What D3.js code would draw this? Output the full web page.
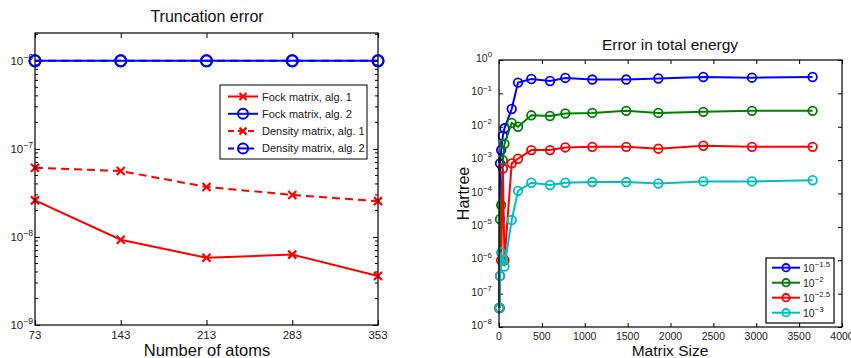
<!DOCTYPE html>
<html>
<head>
<meta charset="utf-8">
<script src="https://cdn.jsdelivr.net/npm/d3@7"></script>
<style>
body { margin: 0; background: #fff; }
svg { font-family: "Liberation Sans", Arial, sans-serif; }
</style>
</head>
<body>
<svg width="851" height="358"></svg>
<script>
// ---- left panel data ----
var atoms = [73, 143, 213, 283, 353];
var fockAlg1 = [2.6e-8, 9.3e-9, 5.8e-9, 6.3e-9, 3.6e-9];
var fockAlg2 = [1e-6, 1e-6, 1e-6, 1e-6, 1e-6];
var densAlg1 = [6.1e-8, 5.6e-8, 3.7e-8, 3.0e-8, 2.55e-8];
var densAlg2 = [1e-6, 1e-6, 1e-6, 1e-6, 1e-6];
var leftLegend = ["Fock matrix, alg. 1", "Fock matrix, alg. 2", "Density matrix, alg. 1", "Density matrix, alg. 2"];
var leftYTicks = [1e-9, 1e-8, 1e-7, 1e-6];
var leftYExp = ["\u22129", "\u22128", "\u22127", "\u22126"];

// ---- right panel data ----
var matrixSize = [5, 12, 25, 45, 64, 148, 222, 377, 595, 773, 1088, 1484, 1858, 2383, 2950, 3657];
var err15 = [3.7e-8, 8e-4, 2e-3, 5.3e-3, 9e-3, 0.034, 0.21, 0.27, 0.235, 0.29, 0.26, 0.26, 0.28, 0.31, 0.295, 0.31];
var err20 = [3.7e-8, 1.7e-5, 4.5e-5, 1e-3, 3.1e-3, 0.013, 0.01, 0.022, 0.021, 0.025, 0.026, 0.03, 0.026, 0.028, 0.03, 0.03];
var err25 = [3.7e-8, 3.4e-7, 1e-6, 5.6e-4, 1e-6, 8e-4, 1.1e-3, 2.0e-3, 2.0e-3, 2.4e-3, 2.5e-3, 2.5e-3, 2.2e-3, 2.7e-3, 2.5e-3, 2.5e-3];
var err30 = [3.7e-8, 3.4e-7, 1.7e-6, 1.0e-6, 6.5e-7, 1.6e-5, 1.2e-4, 2.1e-4, 1.8e-4, 2.1e-4, 2.2e-4, 2.2e-4, 2.0e-4, 2.3e-4, 2.3e-4, 2.5e-4];
var rightLegendExp = ["\u22121.5", "\u22122", "\u22122.5", "\u22123"];
var rightYTicks = [1e-8, 1e-7, 1e-6, 1e-5, 1e-4, 1e-3, 1e-2, 1e-1, 1];
var rightYExp = ["\u22128", "\u22127", "\u22126", "\u22125", "\u22124", "\u22123", "\u22122", "\u22121", "0"];
var rightXTicks = [0, 500, 1000, 1500, 2000, 2500, 3000, 3500, 4000];

var svg = d3.select("svg");
var textCol = "#222";

function frame(g, x0, y0, x1, y1) {
    g.append("rect")
        .attr("x", x0).attr("y", y0)
        .attr("width", x1 - x0).attr("height", y1 - y0)
        .attr("fill", "none").attr("stroke", "#000").attr("stroke-width", 1.2);
}

function tenLabel(g, x, y, exp, anchor, size) {
    var t = g.append("text")
        .attr("x", x).attr("y", y)
        .attr("text-anchor", anchor)
        .attr("font-size", size + "px")
        .attr("fill", textCol);
    t.append("tspan").text("10");
    t.append("tspan").attr("dy", -size * 0.45).attr("font-size", (size * 0.75) + "px").text(exp);
    return t;
}

function xMarker(g, cx, cy, s, color) {
    g.append("path")
        .attr("d", "M" + (cx - s) + "," + (cy - s) + "L" + (cx + s) + "," + (cy + s) +
            "M" + (cx - s) + "," + (cy + s) + "L" + (cx + s) + "," + (cy - s))
        .attr("stroke", color).attr("stroke-width", 2.2).attr("fill", "none");
}

// ================= LEFT PANEL =================
var L = { left: 35, right: 378, top: 33, bottom: 325 };
var xL = d3.scaleLinear().domain([73, 353]).range([L.left, L.right]);
var yL = d3.scaleLog().domain([1e-9, 2.07e-6]).range([L.bottom, L.top]);
var gL = svg.append("g");

// minor log ticks
var minorL = [];
[-9, -8, -7, -6].forEach(function (e) {
    for (var m = 2; m <= 9; m++) {
        var v = m * Math.pow(10, e);
        if (v <= 2.07e-6) minorL.push(v);
    }
});
minorL.forEach(function (v) {
    gL.append("line").attr("x1", L.left).attr("x2", L.left + 3).attr("y1", yL(v)).attr("y2", yL(v)).attr("stroke", "#000");
    gL.append("line").attr("x1", L.right).attr("x2", L.right - 3).attr("y1", yL(v)).attr("y2", yL(v)).attr("stroke", "#000");
});

gL.append("g").attr("transform", "translate(" + L.left + ",0)")
    .call(d3.axisLeft(yL).tickValues(leftYTicks).tickSize(-5).tickFormat(""));
gL.append("g").attr("transform", "translate(" + L.right + ",0)")
    .call(d3.axisRight(yL).tickValues(leftYTicks).tickSize(-5).tickFormat(""));
gL.append("g").attr("transform", "translate(0," + L.bottom + ")")
    .call(d3.axisBottom(xL).tickValues(atoms).tickSize(-5).tickFormat(""));
gL.append("g").attr("transform", "translate(0," + L.top + ")")
    .call(d3.axisTop(xL).tickValues(atoms).tickSize(-5).tickFormat(""));
gL.selectAll(".domain").remove();

leftYTicks.forEach(function (v, i) {
    tenLabel(gL, 33, yL(v) + 4, leftYExp[i], "end", 11.5);
});
atoms.forEach(function (a) {
    gL.append("text").attr("x", xL(a)).attr("y", L.bottom + 14)
        .attr("text-anchor", "middle").attr("font-size", "11.5px").attr("fill", textCol).text(a);
});

var lineL = d3.line()
    .x(function (d) { return xL(d[0]); })
    .y(function (d) { return yL(d[1]); });

var leftSeries = [
    { vals: fockAlg1, color: "#ff0000", dash: null, mark: "x" },
    { vals: fockAlg2, color: "#0000ff", dash: null, mark: "o" },
    { vals: densAlg1, color: "#ff0000", dash: "8,5", mark: "x" },
    { vals: densAlg2, color: "#0000ff", dash: "8,5", mark: "o" }
];

leftSeries.forEach(function (s) {
    var pts = atoms.map(function (a, i) { return [a, s.vals[i]]; });
    gL.append("path").datum(pts)
        .attr("d", lineL)
        .attr("fill", "none").attr("stroke", s.color).attr("stroke-width", 2)
        .attr("stroke-dasharray", s.dash);
    pts.forEach(function (p) {
        if (s.mark === "x") xMarker(gL, xL(p[0]), yL(p[1]), 4, s.color);
        else gL.append("circle").attr("cx", xL(p[0])).attr("cy", yL(p[1])).attr("r", 5.5)
            .attr("fill", "none").attr("stroke", s.color).attr("stroke-width", 2);
    });
});

frame(gL, L.left, L.top, L.right, L.bottom);

// legend
var lgL = gL.append("g");
lgL.append("rect").attr("x", 220).attr("y", 85).attr("width", 147).attr("height", 74)
    .attr("fill", "#fff").attr("stroke", "#000").attr("stroke-width", 1);
leftSeries.forEach(function (s, i) {
    var yy = 96.5 + i * 17.3;
    lgL.append("line").attr("x1", 228).attr("x2", 258).attr("y1", yy).attr("y2", yy)
        .attr("stroke", s.color).attr("stroke-width", 2).attr("stroke-dasharray", s.dash ? "6,4" : null);
    if (s.mark === "x") xMarker(lgL, 243, yy, 3.5, s.color);
    else {
        lgL.append("circle").attr("cx", 243).attr("cy", yy).attr("r", 5)
            .attr("fill", "#fff").attr("stroke", s.color).attr("stroke-width", 2);
        lgL.append("line").attr("x1", 238).attr("x2", 248).attr("y1", yy).attr("y2", yy)
            .attr("stroke", s.color).attr("stroke-width", 2);
    }
    lgL.append("text").attr("x", 262).attr("y", yy + 4).attr("font-size", "11px").attr("fill", textCol).text(leftLegend[i]);
});

gL.append("text").attr("x", 207).attr("y", 22).attr("text-anchor", "middle")
    .attr("font-size", "16px").attr("fill", "#111").text("Truncation error");
gL.append("text").attr("x", 207).attr("y", 356).attr("text-anchor", "middle")
    .attr("font-size", "16.5px").attr("fill", "#111").text("Number of atoms");

// ================= RIGHT PANEL =================
var R = { left: 499, right: 842, top: 60, bottom: 327 };
var xR = d3.scaleLinear().domain([0, 4000]).range([R.left, R.right]);
var yR = d3.scaleLog().domain([1e-8, 1]).range([R.bottom, R.top]);
var gR = svg.append("g");

gR.append("g").attr("transform", "translate(" + R.left + ",0)")
    .call(d3.axisLeft(yR).tickValues(rightYTicks).tickSize(-4).tickFormat(""));
gR.append("g").attr("transform", "translate(" + R.right + ",0)")
    .call(d3.axisRight(yR).tickValues(rightYTicks).tickSize(-4).tickFormat(""));
gR.append("g").attr("transform", "translate(0," + R.bottom + ")")
    .call(d3.axisBottom(xR).tickValues(rightXTicks).tickSize(-4).tickFormat(""));
gR.append("g").attr("transform", "translate(0," + R.top + ")")
    .call(d3.axisTop(xR).tickValues(rightXTicks).tickSize(-4).tickFormat(""));
gR.selectAll(".domain").remove();

rightYTicks.forEach(function (v, i) {
    tenLabel(gR, 492, yR(v) + 2, rightYExp[i], "end", 10.5);
});
rightXTicks.forEach(function (v) {
    gR.append("text").attr("x", xR(v)).attr("y", R.bottom + 13)
        .attr("text-anchor", "middle").attr("font-size", "10.5px").attr("fill", textCol).text(v);
});

var lineR = d3.line()
    .x(function (d) { return xR(d[0]); })
    .y(function (d) { return yR(d[1]); });

var rightSeries = [
    { vals: err15, color: "#0000ff" },
    { vals: err20, color: "#008000" },
    { vals: err25, color: "#ff0000" },
    { vals: err30, color: "#00bfbf" }
];

rightSeries.forEach(function (s) {
    var pts = matrixSize.map(function (m, i) { return [m, s.vals[i]]; });
    gR.append("path").datum(pts)
        .attr("d", lineR)
        .attr("fill", "none").attr("stroke", s.color).attr("stroke-width", 2);
    gR.selectAll(null).data(pts).enter().append("circle")
        .attr("cx", function (d) { return xR(d[0]); })
        .attr("cy", function (d) { return yR(d[1]); })
        .attr("r", 4.3)
        .attr("fill", "none").attr("stroke", s.color).attr("stroke-width", 1.8);
});

frame(gR, R.left, R.top, R.right, R.bottom);

var lgR = gR.append("g");
lgR.append("rect").attr("x", 766).attr("y", 258).attr("width", 68).attr("height", 65)
    .attr("fill", "#fff").attr("stroke", "#000").attr("stroke-width", 1.2);
rightSeries.forEach(function (s, i) {
    var yy = 267.7 + i * 15;
    lgR.append("line").attr("x1", 772).attr("x2", 800).attr("y1", yy).attr("y2", yy)
        .attr("stroke", s.color).attr("stroke-width", 2);
    lgR.append("circle").attr("cx", 786).attr("cy", yy).attr("r", 3.7)
        .attr("fill", "none").attr("stroke", s.color).attr("stroke-width", 1.8);
    tenLabel(lgR, 803, yy + 4.5, rightLegendExp[i], "start", 10.5);
});

gR.append("text").attr("x", 670).attr("y", 50).attr("text-anchor", "middle")
    .attr("font-size", "15.5px").attr("fill", "#111").text("Error in total energy");
gR.append("text").attr("x", 670).attr("y", 356).attr("text-anchor", "middle")
    .attr("font-size", "15.5px").attr("fill", "#111").text("Matrix Size");
gR.append("text").attr("transform", "translate(469,193.5) rotate(-90)").attr("text-anchor", "middle")
    .attr("font-size", "16px").attr("fill", "#111").text("Hartree");
</script>
</body>
</html>
